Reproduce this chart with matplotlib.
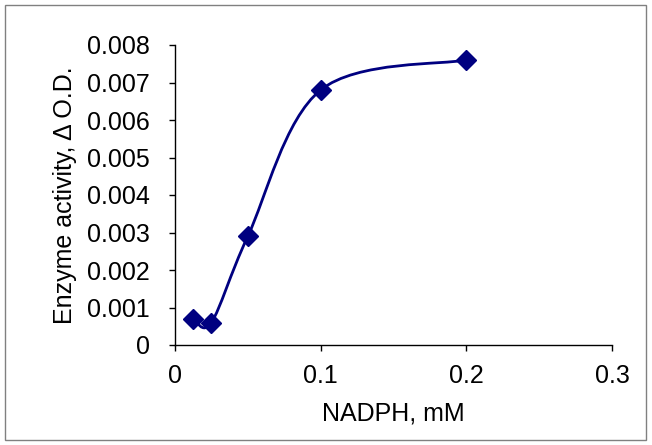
import matplotlib
matplotlib.use("Agg")
import matplotlib.pyplot as plt
from matplotlib.path import Path
from matplotlib.patches import PathPatch, Rectangle
import numpy as np

plt.rcParams['font.family'] = ['Liberation Sans', 'DejaVu Sans']

nadph_mM = [0.0125, 0.025, 0.05, 0.1, 0.2]
activity = [0.0007, 0.0006, 0.0029, 0.0068, 0.0076]
x_ticks = [0, 0.1, 0.2, 0.3]
x_tick_labels = ["0", "0.1", "0.2", "0.3"]
y_ticks = [0, 0.001, 0.002, 0.003, 0.004, 0.005, 0.006, 0.007, 0.008]
y_tick_labels = ["0", "0.001", "0.002", "0.003", "0.004", "0.005", "0.006", "0.007", "0.008"]

color = "#000080"
fs = 18

fig = plt.figure(figsize=(6.52, 4.45), dpi=100)
ax = fig.add_axes([175/652, 1-345/445, (612-175)/652, 300/445])
ax.set_xlim(0, 0.3)
ax.set_ylim(0, 0.008)

# Excel-like smoothed line (Catmull-Rom -> cubic Bezier)
px = np.array(nadph_mM)
py = np.array(activity)
n = len(px)
verts = [(px[0], py[0])]
codes = [Path.MOVETO]
for i in range(n - 1):
    p0 = np.array([px[max(i-1, 0)], py[max(i-1, 0)]])
    p1 = np.array([px[i], py[i]])
    p2 = np.array([px[i+1], py[i+1]])
    p3 = np.array([px[min(i+2, n-1)], py[min(i+2, n-1)]])
    c1 = p1 + (p2 - p0) / 6
    c2 = p2 - (p3 - p1) / 6
    verts += [tuple(c1), tuple(c2), tuple(p2)]
    codes += [Path.CURVE4] * 3
ax.add_patch(PathPatch(Path(verts, codes), facecolor='none', edgecolor=color, lw=2, zorder=2))
ax.plot(nadph_mM, activity, linestyle='none', marker='D', ms=10, color=color, zorder=3, clip_on=False)

ax.set_xticks(x_ticks)
ax.set_xticklabels(x_tick_labels)
ax.set_yticks(y_ticks)
ax.set_yticklabels(y_tick_labels)
ax.spines['top'].set_visible(False)
ax.spines['right'].set_visible(False)
for s in ['left', 'bottom']:
    ax.spines[s].set_linewidth(1.0)
ax.tick_params(axis='both', direction='out', length=4, width=1, labelsize=fs, colors='black')
ax.tick_params(axis='y', pad=14)
ax.tick_params(axis='x', pad=10)

ax.set_xlabel("NADPH, mM", fontsize=fs)
ax.set_ylabel("Enzyme activity, \u0394 O.D.", fontsize=fs)
ax.xaxis.set_label_coords(0.5, -(414-345)/300, transform=ax.transAxes)
ax.yaxis.set_label_coords(-(175-65)/437, 0.5)
ax.xaxis.label.set_va('center')
ax.yaxis.label.set_va('center')

fig.add_artist(Rectangle((5/652, 5/445), (646-5)/652, (440-5)/445, transform=fig.transFigure,
                         fill=False, edgecolor='#808080', lw=1))

fig.savefig("out.png", dpi=100)
